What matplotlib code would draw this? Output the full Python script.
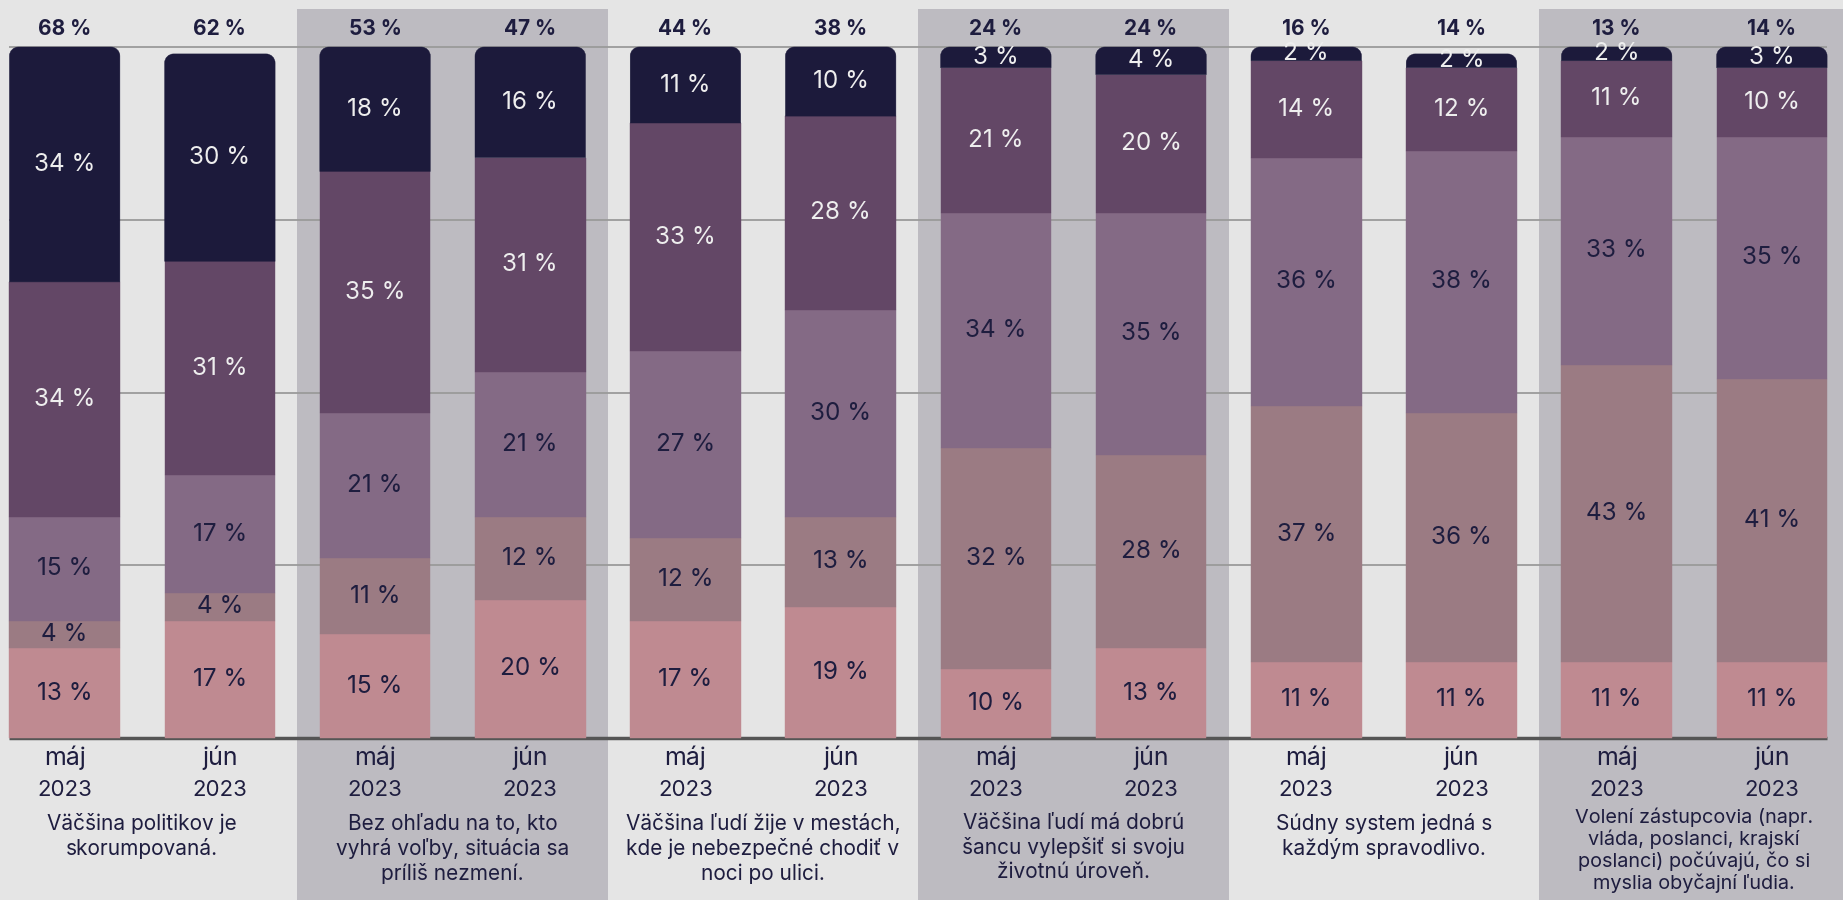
import matplotlib
matplotlib.use("Agg")
import matplotlib.pyplot as plt
from matplotlib.path import Path
from matplotlib.patches import PathPatch, Rectangle
import numpy as np

# ── data (bottom → top segment) ───────────────────────────────────────────
months = ["máj\n2023", "jún\n2023"] * 6
statements = [
    "Väčšina politikov je\nskorumpovaná.",
    "Bez ohľadu na to, kto\nvyhrá voľby, situácia sa\npríliš nezmení.",
    "Väčšina ľudí žije v mestách,\nkde je nebezpečné chodiť v\nnoci po ulici.",
    "Väčšina ľudí má dobrú\nšancu vylepšiť si svoju\nživotnú úroveň.",
    "Súdny system jedná s\nkaždým spravodlivo.",
    "Volení zástupcovia (napr.\nvláda, poslanci, krajskí\nposlanci) počúvajú, čo si\nmyslia obyčajní ľudia.",
]
pink   = [13, 17, 15, 20, 17, 19, 10, 13, 11, 11, 11, 11]
mauve  = [4, 4, 11, 12, 12, 13, 32, 28, 37, 36, 43, 41]
lilac  = [15, 17, 21, 21, 27, 30, 34, 35, 36, 38, 33, 35]
plum   = [34, 31, 35, 31, 33, 28, 21, 20, 14, 12, 11, 10]
navy   = [34, 30, 18, 16, 11, 10, 3, 4, 2, 2, 2, 3]
top_totals = [68, 62, 53, 47, 44, 38, 24, 24, 16, 14, 13, 14]

series = [pink, mauve, lilac, plum, navy]
colors = ["#bf8a91", "#9b7b83", "#846a85", "#634766", "#1c1a3b"]
text_dark = "#1e1d3f"
text_light = "#eeeeee"
label_colors = [text_dark, text_dark, text_dark, text_light, text_light]

BG = "#e5e5e5"
BAND = "#bdbbc1"
FONT = "Inter"

# ── layout (pixel geometry of a 1843x900 canvas) ──────────────────────────
W, H = 1843, 900
x0_px, step_px, barw_px = 64.65, 155.2, 110.5
base_px, top_px = 738, 47
ppu = (base_px - top_px) / 100.0

xmin = -x0_px / step_px
xmax = (W - x0_px) / step_px
ymax = 100 + top_px / ppu
ymin = -(H - base_px) / ppu
bar_w = barw_px / step_px
rx, ry = 9 / step_px, 9 / ppu


def top_rounded(x, y, w, h, rx, ry):
    k = 0.5523
    ry = min(ry, h)
    verts = [(x, y), (x, y + h - ry),
             (x, y + h - ry + k * ry), (x + rx - k * rx, y + h), (x + rx, y + h),
             (x + w - rx, y + h),
             (x + w - rx + k * rx, y + h), (x + w, y + h - ry + k * ry), (x + w, y + h - ry),
             (x + w, y), (x, y)]
    codes = [Path.MOVETO, Path.LINETO,
             Path.CURVE4, Path.CURVE4, Path.CURVE4,
             Path.LINETO,
             Path.CURVE4, Path.CURVE4, Path.CURVE4,
             Path.LINETO, Path.CLOSEPOLY]
    return Path(verts, codes)


fig = plt.figure(figsize=(W / 100, H / 100), dpi=100, facecolor=BG)
ax = fig.add_axes([0, 0, 1, 1])
ax.set_facecolor(BG)
ax.set_xlim(xmin, xmax)
ax.set_ylim(ymin, ymax)
ax.axis("off")

n = len(pink)
xs = np.arange(n)

# alternating group bands
band_top = 100 + (top_px - 9.4) / ppu
for g in range(1, 6, 2):
    ax.add_patch(Rectangle((2 * g - 0.5, ymin), 2, band_top - ymin,
                           facecolor=BAND, edgecolor="none", zorder=0))

# grid + baseline
left, right = -bar_w / 2, n - 1 + bar_w / 2
for yv in (25, 50, 75, 100):
    ax.hlines(yv, left, right, color="#9a9a9a", lw=1.3, zorder=1)
ax.hlines(0, left, right, color="#555555", lw=2.5, zorder=1)

# stacked bars
bottoms = np.zeros(n)
for s, (vals, col, tcol) in enumerate(zip(series, colors, label_colors)):
    vals = np.array(vals, dtype=float)
    last = s == len(series) - 1
    for i in range(n):
        xl = xs[i] - bar_w / 2
        if last:
            ax.add_patch(PathPatch(top_rounded(xl, bottoms[i], bar_w, vals[i], rx, ry),
                                   facecolor=col, edgecolor=col, lw=0.3, zorder=2))
        else:
            ax.add_patch(Rectangle((xl, bottoms[i]), bar_w, vals[i],
                                   facecolor=col, edgecolor=col, lw=0.3, zorder=2))
        ax.text(xs[i], bottoms[i] + vals[i] / 2, f"{int(vals[i])} %",
                ha="center", va="center", color=tcol, fontsize=17.5,
                family=FONT, zorder=3)
    bottoms += vals

# totals on top
for i in range(n):
    ax.text(xs[i], 102.65, f"{top_totals[i]} %", ha="center", va="center",
            color=text_dark, fontsize=15, fontweight="bold", family=FONT)

# month / year labels
for i in range(n):
    m, y = months[i].split("\n")
    ax.text(xs[i], -2.9, m, ha="center", va="center", color=text_dark,
            fontsize=18, family=FONT)
    ax.text(xs[i], -7.5, y, ha="center", va="center", color=text_dark,
            fontsize=16, family=FONT)

# statements under each group
for g, txt in enumerate(statements):
    cx = 2 * g + 0.5
    if g == 5:
        ax.text(cx, -10.1, txt, ha="center", va="top", color=text_dark,
                fontsize=14.3, family=FONT, linespacing=1.16)
    else:
        ax.text(cx, -10.8, txt, ha="center", va="top", color=text_dark,
                fontsize=15, family=FONT, linespacing=1.26)

fig.savefig("out.png", dpi=100, facecolor=BG)
